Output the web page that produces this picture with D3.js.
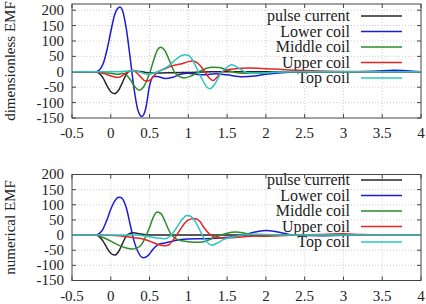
<!DOCTYPE html>
<html>
<head>
<meta charset="utf-8">
<script src="https://cdn.jsdelivr.net/npm/d3@7"></script>
<style>
  body { margin: 0; background: #fff; }
  svg { display: block; font-family: "Liberation Serif", "DejaVu Serif", serif; }
</style>
</head>
<body>
<svg id="chart" width="426" height="304"></svg>
<script>
// tick values
const xTicks = [-0.5, 0, 0.5, 1, 1.5, 2, 2.5, 3, 3.5, 4];
const yTicks = [-150, -100, -50, 0, 50, 100, 150, 200];

const seriesNames = ['pulse current', 'Lower coil', 'Middle coil', 'Upper coil', 'Top coil'];
const seriesColors = ['#262626', '#1c1cd4', '#2a8c2a', '#e42626', '#2cc4c4'];

// upper panel: dimensionless EMF  ([t, value])
const topPulse = [[-0.5,0],[-0.2,0],[-0.15,-5],[-0.1,-20],[-0.05,-45],[0,-65],[0.05,-71],[0.1,-60],[0.15,-35],[0.2,-8],[0.25,3],[0.3,4],[0.35,2],[0.45,-2],[0.6,-4],[0.8,-3],[1.0,-2],[1.3,0],[4,0]];
const topLower = [[-0.5,0],[-0.2,0],[-0.15,5],[-0.1,25],[-0.05,70],[0,130],[0.05,185],[0.1,208],[0.12,210],[0.15,200],[0.2,140],[0.25,45],[0.3,-55],[0.35,-125],[0.4,-145],[0.45,-120],[0.5,-45],[0.55,-15],[0.6,-15],[0.7,-22],[0.8,-18],[0.9,-8],[1.0,-5],[1.1,-8],[1.2,-10],[1.35,-6],[1.5,-10],[1.7,-16],[1.85,-14],[2.0,-8],[2.2,-3],[2.5,0],[3.0,0],[3.4,2],[3.65,5],[3.9,2],[4,0]];
const topMiddle = [[-0.5,0],[-0.2,0],[-0.1,-2],[0,-5],[0.1,-8],[0.15,-5],[0.2,-10],[0.25,-25],[0.3,-45],[0.37,-60],[0.42,-50],[0.5,-5],[0.55,35],[0.6,70],[0.64,80],[0.7,68],[0.75,40],[0.82,0],[0.88,-15],[0.95,-20],[1.05,-12],[1.15,2],[1.3,15],[1.4,14],[1.5,5],[1.6,-2],[1.8,-5],[2.0,-3],[2.3,0],[4,0]];
const topUpper = [[-0.5,0],[-0.2,0],[-0.1,-5],[0,-13],[0.05,-17],[0.1,-18],[0.15,-12],[0.2,-3],[0.27,4],[0.32,0],[0.38,-15],[0.45,-30],[0.5,-28],[0.55,-15],[0.6,-2],[0.7,10],[0.8,20],[0.9,25],[1.0,33],[1.05,35],[1.12,28],[1.2,5],[1.27,-20],[1.32,-28],[1.38,-15],[1.45,2],[1.55,8],[1.8,12],[2.0,10],[2.3,6],[2.6,3],[3.0,1],[4,0]];
const topTop = [[-0.5,0],[-0.2,0],[0,0],[0.2,2],[0.3,3],[0.4,-3],[0.47,-8],[0.55,-5],[0.65,5],[0.75,20],[0.85,42],[0.95,55],[1.0,54],[1.05,40],[1.12,5],[1.18,-25],[1.24,-50],[1.28,-55],[1.34,-40],[1.42,-5],[1.5,15],[1.56,23],[1.65,12],[1.75,-2],[1.85,-5],[2.0,-3],[2.3,0],[4,0]];

// lower panel: numerical EMF
const botPulse = [[-0.5,0],[-0.2,0],[-0.15,-5],[-0.1,-20],[-0.05,-42],[0,-60],[0.05,-66],[0.1,-55],[0.15,-28],[0.2,-3],[0.25,6],[0.3,8],[0.35,5],[0.45,1],[0.6,0],[4,0]];
const botLower = [[-0.5,0],[-0.2,0],[-0.15,5],[-0.1,20],[-0.05,50],[0,85],[0.05,112],[0.1,125],[0.13,124],[0.2,90],[0.25,35],[0.3,-20],[0.35,-55],[0.42,-75],[0.48,-68],[0.55,-45],[0.62,-30],[0.7,-26],[0.8,-20],[0.9,-15],[1.0,-13],[1.2,-12],[1.4,-10],[1.6,-5],[1.75,3],[1.9,12],[2.0,15],[2.1,13],[2.25,5],[2.4,-1],[2.7,-2],[3.0,-1],[3.5,0],[4,0]];
const botMiddle = [[-0.5,0],[-0.2,0],[-0.1,-8],[0,-20],[0.1,-33],[0.2,-43],[0.28,-46],[0.33,-44],[0.4,-30],[0.45,-5],[0.5,25],[0.55,60],[0.6,76],[0.65,70],[0.7,45],[0.75,15],[0.8,-5],[0.9,-18],[1.0,-22],[1.1,-24],[1.2,-22],[1.3,-12],[1.4,-2],[1.5,6],[1.6,10],[1.7,8],[1.8,2],[1.9,-3],[2.0,-4],[2.2,-1],[2.5,0],[4,0]];
const botUpper = [[-0.5,0],[-0.2,0],[0,-1],[0.2,-5],[0.3,-9],[0.4,-12],[0.5,-20],[0.6,-30],[0.7,-35],[0.75,-32],[0.8,-18],[0.85,0],[0.9,20],[0.95,38],[1.0,50],[1.08,55],[1.15,45],[1.2,25],[1.28,2],[1.35,-8],[1.45,-10],[1.6,-8],[1.8,-4],[2.0,-3],[2.3,-1],[2.7,2],[3.0,4],[3.2,2],[3.5,0],[4,0]];
const botTop = [[-0.5,0],[-0.2,0],[0.3,0],[0.45,-3],[0.6,-10],[0.7,-12],[0.78,0],[0.85,25],[0.92,52],[0.98,65],[1.03,62],[1.1,40],[1.17,5],[1.23,-20],[1.3,-33],[1.36,-28],[1.45,-15],[1.55,-8],[1.7,0],[1.8,3],[2.0,2],[2.3,0],[4,0]];

const svg = d3.select('#chart');
const left = 72, right = 421;
const tickFs = 15, legendFs = 16;

const panels = [
  { label: 'dimensionless EMF', top: 4, bottom: 118, yMax: 220, series: [topPulse, topLower, topMiddle, topUpper, topTop], legendY: 16 },
  { label: 'numerical EMF', top: 174.5, bottom: 280.5, yMax: 200, series: [botPulse, botLower, botMiddle, botUpper, botTop], legendY: 180 }
];

const x = d3.scaleLinear().domain([-0.5, 4]).range([left, right]);

panels.forEach((p, pi) => {
  const y = d3.scaleLinear().domain([-150, p.yMax]).range([p.bottom, p.top]);
  const g = svg.append('g');

  // grid
  g.selectAll('.gx').data(xTicks.slice(1, -1)).join('line')
    .attr('x1', d => x(d)).attr('x2', d => x(d))
    .attr('y1', p.top).attr('y2', p.bottom)
    .attr('stroke', '#b8b8b8').attr('stroke-width', 0.7).attr('stroke-dasharray', '1,2');
  g.selectAll('.gy').data(yTicks.filter(d => y(d) < p.bottom - 1 && y(d) > p.top + 1)).join('line')
    .attr('x1', left).attr('x2', right)
    .attr('y1', d => y(d)).attr('y2', d => y(d))
    .attr('stroke', '#b8b8b8').attr('stroke-width', 0.7).attr('stroke-dasharray', '1,2');

  // mirrored inward ticks
  const tl = 4;
  xTicks.forEach(t => {
    g.append('line').attr('x1', x(t)).attr('x2', x(t)).attr('y1', p.bottom).attr('y2', p.bottom - tl).attr('stroke', '#444');
    g.append('line').attr('x1', x(t)).attr('x2', x(t)).attr('y1', p.top).attr('y2', p.top + tl).attr('stroke', '#444');
  });
  yTicks.forEach(t => {
    g.append('line').attr('x1', left).attr('x2', left + tl).attr('y1', y(t)).attr('y2', y(t)).attr('stroke', '#444');
    g.append('line').attr('x1', right).attr('x2', right - tl).attr('y1', y(t)).attr('y2', y(t)).attr('stroke', '#444');
  });

  // tick labels
  g.selectAll('.xl').data(xTicks).join('text')
    .attr('x', d => x(d)).attr('y', p.bottom + 20)
    .attr('text-anchor', 'middle').attr('font-size', tickFs).attr('fill', '#222')
    .text(d => d);
  g.selectAll('.yl').data(yTicks).join('text')
    .attr('x', 64).attr('y', d => y(d)).attr('dy', '0.33em')
    .attr('text-anchor', 'end').attr('font-size', tickFs).attr('fill', '#222')
    .text(d => d);

  // axis label
  g.append('text')
    .attr('transform', `translate(15,${(p.top + p.bottom) / 2}) rotate(-90)`)
    .attr('text-anchor', 'middle').attr('font-size', tickFs).attr('fill', '#222')
    .text(p.label);

  // curves
  const clipId = 'clip' + pi;
  svg.append('clipPath').attr('id', clipId).append('rect')
    .attr('x', left).attr('y', p.top).attr('width', right - left).attr('height', p.bottom - p.top);
  const line = d3.line().x(d => x(d[0])).y(d => y(d[1])).curve(d3.curveMonotoneX);

  // legend
  seriesNames.forEach((name, i) => {
    const ly = p.legendY + i * 15.5;
    g.append('text').attr('x', 350).attr('y', ly).attr('dy', '0.33em')
      .attr('text-anchor', 'end').attr('font-size', legendFs).attr('fill', '#222').text(name);
    g.append('line').attr('x1', 361).attr('x2', 402).attr('y1', ly).attr('y2', ly)
      .attr('stroke', seriesColors[i]).attr('stroke-width', 1.5);
  });

  const cg = g.append('g').attr('clip-path', `url(#${clipId})`);
  p.series.forEach((s, i) => {
    cg.append('path').datum(s)
      .attr('d', line)
      .attr('fill', 'none')
      .attr('stroke', seriesColors[i])
      .attr('stroke-width', 1.5);
  });

  // border
  g.append('rect').attr('x', left).attr('y', p.top)
    .attr('width', right - left).attr('height', p.bottom - p.top)
    .attr('fill', 'none').attr('stroke', '#444').attr('stroke-width', 1);
});
</script>
</body>
</html>
